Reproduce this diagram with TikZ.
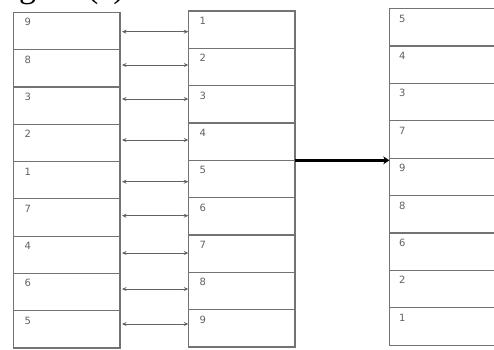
\documentclass[tikz,border=0pt]{standalone}
\usepackage{fontspec}
\setmainfont{Liberation Serif}
\newfontfamily\digfont{DejaVu Sans}
\usetikzlibrary{arrows.meta}
\begin{document}
\begin{tikzpicture}[x=1pt,y=-1pt,
  cell/.style={draw=black!55, line width=1.2pt, inner sep=0pt, outer sep=0pt, anchor=north west},
  lcell/.style={cell, minimum width=106.5pt, minimum height=37.3pt},
  mcell/.style={cell, minimum width=106.7pt, minimum height=37.33pt},
  rcell/.style={cell, minimum width=125pt, minimum height=37.4pt},
  digit/.style={font=\digfont\fontsize{10}{11}\selectfont, text=black!62, inner sep=0pt, anchor=base west},
  dbl/.style={draw=black!62, line width=0.9pt, {Stealth[length=4.5pt,width=4pt]}-{Stealth[length=4.5pt,width=4pt]}, shorten <=2pt},
  thick arrow/.style={draw=black, line width=3pt, -{Stealth[length=6pt,width=8pt]}}
]
\useasboundingbox (0,0) rectangle (494,349);
\clip (0,0) rectangle (494,349);
\node[anchor=south east, inner sep=0pt, font=\fontsize{34}{36}\selectfont] (cap) at (125,5) {Fig 2.5(c)};
\foreach \i/\l/\m/\r/\ay in {1/9/1/5/31.7, 2/8/2/4/65, 3/3/3/3/99, 4/2/4/7/140, 5/1/5/9/181.7, 6/7/6/8/215.7, 7/4/7/6/253, 8/6/8/2/289, 9/5/9/1/324}{
  \node[lcell] (L\i) at (13.5, {12.3+(\i-1)*37.3}) {};
  \node[mcell] (M\i) at (188.3, {11+(\i-1)*37.33}) {};
  \node[rcell] (R\i) at (389.3, {8.5+(\i-1)*37.4}) {};
  \node[digit] (tL\i) at ([xshift=11pt,yshift=-13.5pt]L\i.north west) {\l};
  \node[digit] (tM\i) at ([xshift=11pt,yshift=-13.5pt]M\i.north west) {\m};
  \node[digit] (tR\i) at ([xshift=9.5pt,yshift=-13.5pt]R\i.north west) {\r};
  \coordinate (A\i) at (0,\ay);
  \draw[dbl] (L\i.east |- A\i) -- (M\i.west |- A\i);
}
\draw[thick arrow] (M5.north east) -- (R5.west |- M5.north east);
\end{tikzpicture}
\end{document}
